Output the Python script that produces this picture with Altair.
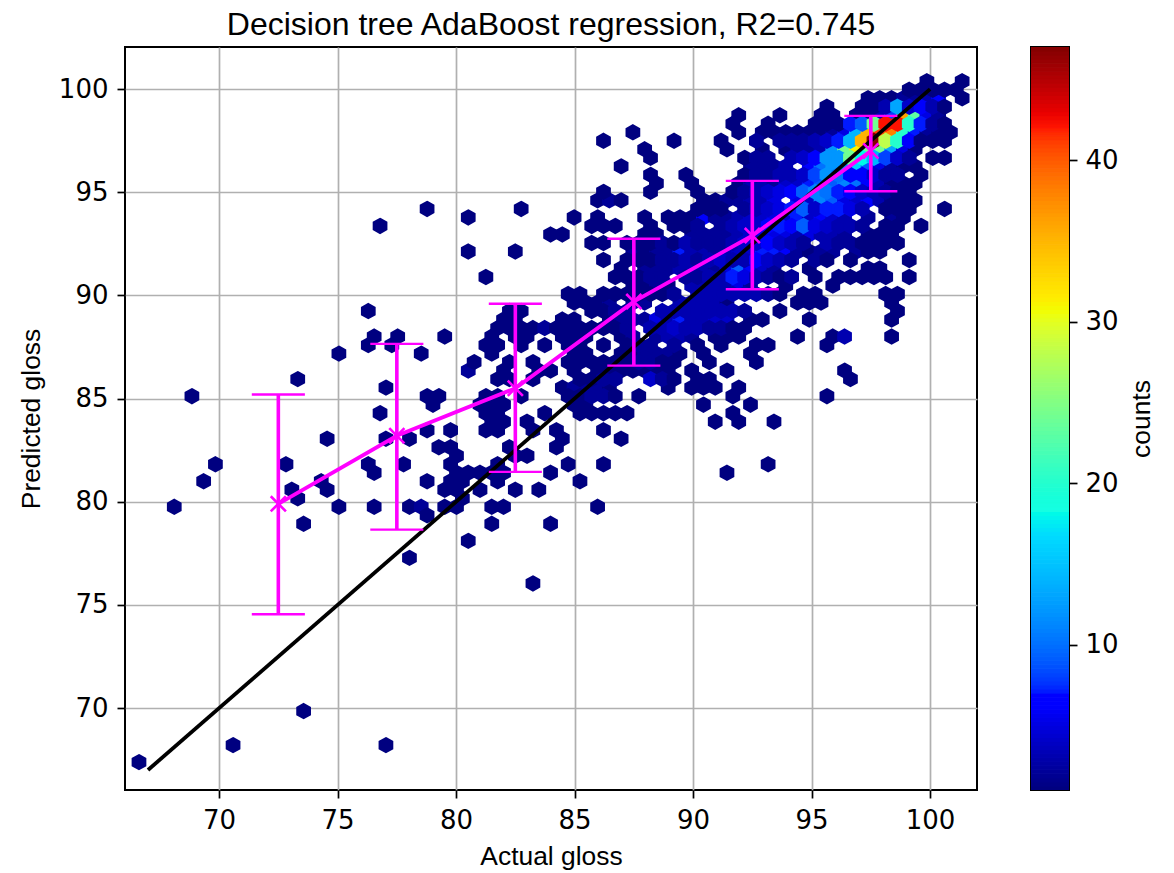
import altair as alt
import pandas as pd

# Hexbin cells: row index -> {column index: count}
hex_rows = {
80:{134:1,140:1},
79:{131:1,133:1,135:1,137:1,139:1},
78:{124:1,126:1,128:1,130:2,132:2,134:3,136:6,140:1},
77:{117:1,123:1,125:1,127:3,129:13,131:4,133:6,135:3,137:1},
76:{102:1,109:1,116:1,118:1,122:1,124:1,126:3,128:8,130:36,132:23,134:5,136:2},
75:{101:1,107:1,115:1,117:1,119:1,121:7,123:9,125:24,127:42,129:42,131:20,133:7,135:2,137:1},
74:{84:1,102:1,106:1,108:1,110:1,112:1,114:1,116:1,118:2,120:5,122:14,124:35,126:41,128:38,130:20,132:7,134:2,136:1,138:1},
73:{79:1,91:1,99:1,105:2,109:2,111:2,113:2,115:3,117:4,119:7,121:14,123:35,125:47,127:28,129:20,131:6,133:1,135:1,137:1},
72:{86:1,100:1,106:1,110:1,112:2,114:2,116:3,118:12,120:24,122:31,124:24,126:24,128:13,130:5,132:1},
71:{87:1,103:1,105:2,107:2,111:3,113:4,115:6,117:12,119:12,121:24,123:18,125:14,127:8,129:4,131:2,135:1,137:1},
70:{82:1,104:2,106:2,108:2,110:3,114:6,116:10,118:12,120:12,122:16,124:9,126:5,128:2,130:1,132:1},
69:{87:1,93:1,103:1,105:2,107:2,109:3,111:3,113:4,115:8,117:12,119:10,121:6,123:6,125:4,127:2,129:2,133:1},
68:{88:1,94:1,102:1,104:3,106:3,108:2,110:4,112:4,114:7,116:9,118:9,120:11,122:10,124:6,126:3,128:1,130:1,132:1},
67:{79:1,87:1,95:1,101:1,103:2,105:3,107:4,109:5,111:6,113:9,115:11,117:10,119:7,121:6,123:4,125:3,127:2,129:1,131:1},
66:{78:1,80:2,82:1,96:1,98:1,100:2,102:2,104:3,106:3,108:5,112:5,114:4,116:11,118:9,120:5,122:4,124:6,126:3,128:1,130:1,132:1},
65:{49:1,65:1,95:1,97:1,99:1,103:2,105:3,107:4,109:5,111:7,113:9,115:4,117:7,119:7,121:5,123:3,127:1,129:1,131:1,137:1},
64:{56:1,74:1,78:1,86:1,90:1,92:1,94:1,96:6,98:2,100:2,102:3,104:4,106:4,108:5,110:4,112:7,114:4,116:6,118:4,120:3,124:2,128:2,130:1},
63:{41:1,77:1,79:1,81:1,87:1,91:1,93:1,95:2,99:2,101:3,103:4,105:4,107:6,109:7,111:6,113:9,115:5,117:4,119:3,121:3,123:2,127:1,129:1,133:1},
62:{70:1,72:1,86:1,88:1,94:2,96:2,98:2,100:2,102:3,104:4,106:5,108:5,110:5,112:3,114:5,116:3,118:3,120:2,124:1,126:1,128:1},
61:{77:1,79:1,83:1,85:1,87:1,89:2,91:1,93:3,95:2,97:2,99:2,101:3,103:4,105:4,107:6,109:4,111:3,113:2,117:3,119:2,121:2,123:1,125:1,127:1,129:1},
60:{56:1,64:1,84:2,86:1,88:2,90:2,92:7,94:3,96:3,98:2,100:3,102:4,104:4,106:7,108:7,110:6,112:2,114:1,116:2,118:2,122:2,124:1,126:1},
59:{79:1,83:1,85:1,87:1,89:2,91:2,93:3,95:2,97:3,99:4,101:3,103:3,105:6,107:4,109:3,111:2,115:2,117:1,121:1,131:1},
58:{82:1,86:2,88:2,90:2,92:3,94:3,96:3,98:2,100:5,102:9,104:6,106:4,108:2,114:1,124:1,126:1},
57:{59:1,81:1,83:1,85:1,87:2,89:2,93:2,95:2,97:3,99:3,101:7,103:5,105:3,107:2,109:1,111:2,115:1,119:1,121:1,123:1,125:1,127:1,131:1},
56:{84:1,86:1,88:2,90:1,94:3,96:3,98:3,100:3,102:5,104:2,110:1,118:1},
55:{73:1,75:1,79:1,81:1,83:1,85:1,87:1,89:1,91:2,95:3,97:3,99:3,101:3,103:3,105:3,107:2,109:1,113:1,115:1,127:1,129:1},
54:{74:1,76:1,78:1,80:2,84:2,86:2,92:3,94:3,96:3,98:3,100:1,112:1,114:1,116:1,128:1},
53:{39:1,63:1,65:1,77:1,79:1,81:2,83:2,89:3,91:3,93:3,95:3,97:3,99:3,101:3,103:2,109:1,129:1},
52:{62:1,64:1,72:1,74:1,80:1,82:2,84:2,86:2,88:5,90:3,92:7,94:3,96:3,98:4,100:4,104:1,106:1,114:1,128:1},
51:{61:1,63:1,65:1,67:1,69:2,71:1,73:1,75:1,77:1,79:1,81:1,83:2,87:3,89:3,91:4,93:3,95:3,97:2,99:2,101:1,103:1},
50:{40:1,44:1,52:1,60:1,64:1,66:1,72:1,74:1,76:1,82:1,84:2,88:2,90:3,92:3,94:2,98:1,100:1,102:1,112:1,118:1,120:3,128:1},
49:{39:1,43:1,59:1,61:1,65:1,69:1,73:1,75:1,79:1,83:1,85:2,87:2,91:2,95:1,99:1,105:1,107:1,117:1},
48:{34:1,48:1,60:1,74:1,76:1,82:1,84:1,86:2,88:2,90:2,92:1,96:1,104:1},
47:{57:1,63:1,67:1,73:1,75:1,77:1,79:1,81:1,83:1,85:2,87:2,89:1,91:1,97:1,105:1},
46:{56:2,62:1,68:1,70:1,74:1,78:1,80:1,82:1,84:1,86:1,88:1,90:1,94:1,100:1,120:1},
45:{27:1,61:1,63:1,67:1,75:1,77:1,79:2,81:2,87:4,89:2,91:1,95:1,97:1,121:1},
44:{42:1,72:1,74:2,76:2,78:2,80:1,90:1,94:1,96:1,98:1,102:1},
43:{9:1,49:1,51:1,59:1,61:1,65:1,73:1,75:1,77:2,79:2,81:1,85:1,101:1,117:1},
42:{50:1,58:1,60:1,62:1,74:1,76:1,96:1,104:1},
41:{41:1,59:1,61:1,69:1,75:1,77:1,79:1,81:1,83:1,101:1},
40:{60:1,62:1,66:1,98:1,102:1,108:1},
39:{49:1,53:1,59:1,61:1,67:1,71:1,79:1},
38:{32:1,42:1,46:1,72:1,82:1},
37:{51:1,53:1,63:1,71:1},
36:{54:1,64:1,66:1},
35:{13:1,25:1,39:1,45:1,53:1,61:1,73:1,79:1,107:1},
34:{40:1,54:1,56:1,58:1,60:1,62:1,70:1,100:1},
33:{11:1,31:1,49:1,53:1,55:1,61:1,75:1},
32:{26:1,32:1,52:1,54:1,58:1,64:1,68:1},
31:{27:1,55:1},
30:{6:1,34:1,40:1,46:1,48:2,52:1,54:1,60:1,62:1,78:1},
29:{49:1},
28:{28:1,60:1,70:1},
26:{56:1},
24:{46:1},
21:{67:1},
6:{28:1},
2:{16:1,42:1},
0:{0:1},
}
hex_origin = (66.62, 67.38)
hex_step = (0.2481, 0.4125)

bin_x = [72.5, 77.5, 82.5, 87.5, 92.5, 97.5]
bin_mean = [79.9, 83.2, 85.5, 89.7, 92.9, 97.0]
bin_low = [74.55, 78.65, 81.45, 86.6, 90.3, 95.05]
bin_high = [85.2, 87.65, 89.6, 92.75, 95.55, 98.7]
cap_half = 1.12
ideal = [67, 100]
x_ticks = [70, 75, 80, 85, 90, 95, 100]
y_ticks = [70, 75, 80, 85, 90, 95, 100]
cbar_ticks = [10, 20, 30, 40]
count_min, count_max = 1, 47

HEX = "M0,-1.15L1.037,-0.58L1.037,0.58L0,1.15L-1.037,0.58L-1.037,-0.58Z"
CROSS = "M-1,-1L1,1M-1,1L1,-1"
SANS = "Liberation Sans"
TICK = "DejaVu Sans"
LABEL_SIZE = 26
TITLE_SIZE = 26.4

def interp(t, pts):
    for (a, va), (b, vb) in zip(pts, pts[1:]):
        if a <= t <= b:
            return va + (vb - va) * (t - a) / (b - a)
    return pts[-1][1]

R = [(0, 0), (.35, 0), (.66, 1), (.89, 1), (1, .5)]
G = [(0, 0), (.125, 0), (.375, 1), (.64, 1), (.91, 0), (1, 0)]
B = [(0, .5), (.11, 1), (.34, 1), (.65, 0), (1, 0)]
stops = [0, .11, .125, .34, .35, .375, .64, .65, .66, .89, .91, 1]
jet = ["#%02x%02x%02x" % tuple(round(255 * interp(t, c)) for c in (R, G, B)) for t in stops]
color_scale = alt.Scale(domain=[count_min + (count_max - count_min) * t for t in stops],
                        range=jet, clamp=True)

cell_list = sorted(((i, j, c) for j, row in hex_rows.items() for i, c in row.items()),
                   key=lambda t: (t[0] % 2, t[0], t[1]))
cells = pd.DataFrame(
    [{"x": hex_origin[0] + i * hex_step[0], "y": hex_origin[1] + j * hex_step[1], "count": c, "n": k}
     for k, (i, j, c) in enumerate(cell_list)]
)
bins = pd.DataFrame({"x": bin_x, "mean": bin_mean, "low": bin_low, "high": bin_high})
bins["l"] = bins.x - cap_half
bins["r"] = bins.x + cap_half
line = pd.DataFrame({"x": ideal, "y": ideal})

W, H = 852, 743
xs = alt.Scale(domain=[66.03, 101.98], nice=False, zero=False)
ys = alt.Scale(domain=[66.03, 102.04], nice=False, zero=False)
common = dict(tickColor="black", tickSize=8, tickWidth=1.7, domain=False, labelFont=TICK,
              labelFontSize=LABEL_SIZE, labelColor="black", titleFont=SANS, titleFontSize=TITLE_SIZE,
              titleFontWeight="normal", titleColor="black")
xax = alt.Axis(values=x_ticks, title="Actual gloss", grid=True, gridColor="#b0b0b0", gridWidth=1.7,
               labelPadding=9, titlePadding=10, **common)
yax = alt.Axis(values=y_ticks, title="Predicted gloss", grid=True, gridColor="#b0b0b0", gridWidth=1.7,
               labelPadding=9, titlePadding=13, **common)

hexes = alt.Chart(cells).mark_point(filled=True, shape=HEX, size=128, strokeWidth=3, opacity=1).encode(
    x=alt.X("x:Q", scale=xs, axis=xax),
    y=alt.Y("y:Q", scale=ys, axis=yax),
    fill=alt.Fill("count:Q", scale=color_scale, legend=None),
    stroke=alt.Stroke("count:Q", scale=color_scale, legend=None),
    order=alt.Order("n:Q"),
)
ideal_line = alt.Chart(line).mark_line(color="black", strokeWidth=3.8).encode(
    x=alt.X("x:Q", scale=xs), y=alt.Y("y:Q", scale=ys))
PINK = "#ff00ff"
mean_line = alt.Chart(bins).mark_line(color=PINK, strokeWidth=3.8).encode(
    x=alt.X("x:Q", scale=xs), y=alt.Y("mean:Q", scale=ys))
stems = alt.Chart(bins).mark_rule(color=PINK, strokeWidth=3.6).encode(
    x=alt.X("x:Q", scale=xs), y=alt.Y("low:Q", scale=ys), y2="high:Q")
caps_low = alt.Chart(bins).mark_rule(color=PINK, strokeWidth=2.4).encode(
    x=alt.X("l:Q", scale=xs), x2="r:Q", y=alt.Y("low:Q", scale=ys))
caps_high = alt.Chart(bins).mark_rule(color=PINK, strokeWidth=2.4).encode(
    x=alt.X("l:Q", scale=xs), x2="r:Q", y=alt.Y("high:Q", scale=ys))
marks = alt.Chart(bins).mark_point(shape=CROSS, size=230, color=PINK, strokeWidth=2.6, opacity=1).encode(
    x=alt.X("x:Q", scale=xs), y=alt.Y("mean:Q", scale=ys))

main = alt.layer(hexes, ideal_line, stems, caps_low, caps_high, mean_line, marks).properties(
    width=W, height=H,
    title=alt.TitleParams("Decision tree AdaBoost regression, R2=0.745", font=SANS, fontSize=32,
                          fontWeight="normal", color="black", anchor="middle", offset=5),
)

cbar_levels = pd.DataFrame({"v": [count_min + k * 0.25 for k in range(int((count_max - count_min) * 4))]})
cbar_levels["v2"] = cbar_levels.v + 0.25
cbar = alt.Chart(cbar_levels).mark_rect(strokeWidth=1, clip=True).encode(
    y=alt.Y("v:Q", scale=alt.Scale(domain=[count_min, count_max], nice=False, zero=False),
            axis=alt.Axis(orient="right", values=cbar_ticks, title="counts", grid=False, titleAngle=270,
                          labelPadding=8, titlePadding=37, **common)),
    y2="v2:Q",
    fill=alt.Fill("v:Q", scale=color_scale, legend=None),
    stroke=alt.Stroke("v:Q", scale=color_scale, legend=None),
).properties(width=38, height=H)

chart = alt.hconcat(main, cbar, spacing=52).resolve_scale(fill="independent", stroke="independent").configure_view(
    stroke="black", strokeWidth=2
).properties(padding={"left": 9, "top": 0, "right": 0, "bottom": 0}, background="white")

chart.save("out.html", embed_options={"renderer": "svg", "actions": False})
